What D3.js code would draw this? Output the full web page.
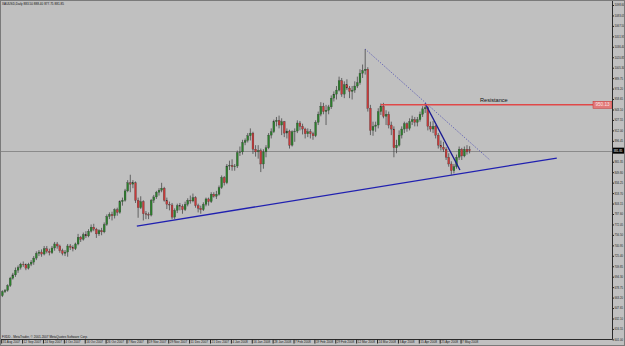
<!DOCTYPE html>
<html><head><meta charset="utf-8">
<script src="https://cdn.jsdelivr.net/npm/d3@7"></script>
<style>html,body{margin:0;padding:0;background:#c0c0c0;}svg{display:block;}</style>
</head><body>
<svg id="chart" width="625" height="346"></svg>
<script>
// ---- data (XAUUSD daily) ----
const dates = [
"2007-08-31",
"2007-09-03","2007-09-04","2007-09-05","2007-09-06","2007-09-07","2007-09-10","2007-09-11","2007-09-12","2007-09-13","2007-09-14",
"2007-09-17","2007-09-18","2007-09-19","2007-09-20","2007-09-21","2007-09-24","2007-09-25","2007-09-26","2007-09-27","2007-09-28",
"2007-10-01","2007-10-02","2007-10-03","2007-10-04","2007-10-05","2007-10-08","2007-10-09","2007-10-10","2007-10-11","2007-10-12",
"2007-10-15","2007-10-16","2007-10-17","2007-10-18","2007-10-19","2007-10-22","2007-10-23","2007-10-24","2007-10-25","2007-10-26",
"2007-10-29","2007-10-30","2007-10-31","2007-11-01","2007-11-02","2007-11-05","2007-11-06","2007-11-07","2007-11-08","2007-11-09",
"2007-11-12","2007-11-13","2007-11-14","2007-11-15","2007-11-16","2007-11-19","2007-11-20","2007-11-21","2007-11-22","2007-11-23",
"2007-11-26","2007-11-27","2007-11-28","2007-11-29","2007-11-30","2007-12-03","2007-12-04","2007-12-05","2007-12-06","2007-12-07",
"2007-12-10","2007-12-11","2007-12-12","2007-12-13","2007-12-14","2007-12-17","2007-12-18","2007-12-19","2007-12-20","2007-12-21",
"2007-12-24","2007-12-26","2007-12-27","2007-12-28","2007-12-31","2008-01-02","2008-01-03","2008-01-04","2008-01-07","2008-01-08",
"2008-01-09","2008-01-10","2008-01-11","2008-01-14","2008-01-15","2008-01-16","2008-01-17","2008-01-18","2008-01-21","2008-01-22",
"2008-01-23","2008-01-24","2008-01-25","2008-01-28","2008-01-29","2008-01-30","2008-01-31","2008-02-01","2008-02-04","2008-02-05",
"2008-02-06","2008-02-07","2008-02-08","2008-02-11","2008-02-12","2008-02-13","2008-02-14","2008-02-15","2008-02-18","2008-02-19",
"2008-02-20","2008-02-21","2008-02-22","2008-02-25","2008-02-26","2008-02-27","2008-02-28","2008-02-29","2008-03-03","2008-03-04",
"2008-03-05","2008-03-06","2008-03-07","2008-03-10","2008-03-11","2008-03-12","2008-03-13","2008-03-14","2008-03-17","2008-03-18",
"2008-03-19","2008-03-20","2008-03-21","2008-03-24","2008-03-25","2008-03-26","2008-03-27","2008-03-28","2008-03-31","2008-04-01",
"2008-04-02","2008-04-03","2008-04-04","2008-04-07","2008-04-08","2008-04-09","2008-04-10","2008-04-11","2008-04-14","2008-04-15",
"2008-04-16","2008-04-17","2008-04-18","2008-04-21","2008-04-22","2008-04-23","2008-04-24","2008-04-25","2008-04-28","2008-04-29",
"2008-04-30","2008-05-01","2008-05-02","2008-05-05","2008-05-06","2008-05-07","2008-05-08","2008-05-09","2008-05-12"
];
const opens = [666,672,674,681,692,697,704,708,713,712,707,713,716,722,729,731,728,736,732,730,737,743,740,733,729,731,740,738,736,743,753,750,757,755,762,768,765,758,763,761,772,784,787,785,794,790,806,808,822,834,832,834,808,797,806,788,787,786,808,813,820,823,826,808,802,801,783,793,800,799,794,802,808,807,812,800,796,794,802,810,806,817,814,817,827,842,834,859,860,858,859,879,880,894,897,904,908,884,880,882,862,880,886,905,910,925,927,920,925,908,911,890,910,911,923,918,914,907,910,907,904,924,936,948,940,942,947,960,966,972,986,966,980,975,970,972,978,983,997,1001,1003,945,912,918,920,940,948,933,936,920,914,886,890,905,914,922,915,925,928,924,928,936,944,946,918,914,918,905,890,887,884,872,862,852,858,872,884,874,884,883.5];
const highs = [674,676,683,694,700,708,711,715,717,714,715,719,725,732,734,735,740,740,736,740,746,746,742,736,734,743,743,741,745,758,755,760,762,765,772,773,767,765,767,775,787,790,791,796,797,808,812,825,838,846,838,836,812,814,808,792,790,810,816,822,826,834,828,812,806,804,796,803,804,802,806,811,815,818,814,803,800,805,812,812,820,820,822,830,845,844,862,867,869,862,882,888,898,900,908,915,910,890,890,885,884,890,908,915,928,932,934,930,926,915,913,912,915,927,926,922,916,915,914,910,927,940,954,953,950,950,964,970,978,992,990,985,988,978,978,985,992,1003,1010,1033,1006,950,925,925,945,952,953,942,940,925,918,898,912,918,925,924,930,934,932,932,940,948,952,948,925,926,920,908,897,895,887,878,866,862,876,888,886,888,890,888.4];
const lows = [664,670,672,679,690,694,700,705,709,704,705,710,712,719,725,724,726,729,726,728,733,736,730,726,725,724,734,732,734,741,746,748,752,753,760,762,752,755,756,759,770,780,778,781,785,788,800,806,820,820,826,804,782,795,778,780,780,784,804,810,815,820,806,795,793,780,780,789,793,788,792,799,803,805,797,790,788,792,799,800,804,812,810,815,825,830,832,853,852,852,856,874,876,890,894,897,877,873,870,850,855,872,884,900,908,918,915,905,902,900,885,888,895,908,912,906,900,902,900,898,902,920,933,936,920,936,944,955,958,970,962,960,972,960,958,968,975,980,990,995,940,905,904,910,915,935,930,920,915,905,872,878,888,900,908,910,912,920,918,918,925,932,938,912,910,908,900,885,882,880,868,858,846,848,855,868,868,872,876,877.75];
const closes = [672,674,681,692,697,704,708,713,712,707,713,716,722,729,731,728,736,732,730,737,743,740,733,729,731,740,738,736,743,753,750,757,755,762,768,765,758,763,761,772,784,787,785,794,790,806,808,822,834,832,834,808,797,806,788,787,786,808,813,820,823,826,808,802,801,783,793,800,799,794,802,808,807,812,800,796,794,802,810,806,817,814,817,827,842,834,859,860,858,859,879,880,894,897,904,908,884,880,882,862,880,886,905,910,925,927,920,925,908,911,890,910,911,923,918,914,907,910,907,904,924,936,948,940,942,947,960,966,972,986,966,980,975,970,972,978,983,997,1001,1003,945,912,918,920,940,948,933,936,920,914,886,890,905,914,922,915,925,928,924,928,936,944,946,918,914,918,905,890,887,884,872,862,852,858,872,884,874,884,880,881.85];

const priceTicks = [1098.60,1083.05,1067.50,1051.95,1036.40,1020.85,1005.30,989.75,974.20,958.65,943.10,927.55,912.00,896.45,880.90,865.35,849.80,834.25,818.70,803.15,787.60,772.05,756.50,740.95,725.40,709.85,694.30,678.75,663.20,647.65,632.10,616.55,601.00];
const dateTickEvery = 8;
const resistanceLevel = 950.13;
const resistanceStartBar = 145;
const supportLine = [[51.5, 769.7],[212.4, 870.9]];
const dottedLine = [[139, 1033],[186.8, 867.9]];
const steepLine = [[162, 952],[175.3, 853.1]];
const symbolTitle = "XAUUSD,Daily";
const copyright = "FXDD - MetaTrader, \u00a9 2001-2007 MetaQuotes Software Corp.";

// ---- layout ----
const W = 625, H = 346;
const axisX = 612.5, axisY = 339.5;
const svg = d3.select("#chart");
const font = "Tahoma, 'Liberation Sans', Arial, sans-serif";

const x = d3.scaleLinear().domain([0, dates.length - 1]).range([2.4, 2.4 + (dates.length - 1) * 2.61]);
const y = d3.scaleLinear().domain([601.0, 1098.6]).range([339.4, 5]);

svg.append("rect").attr("width", W).attr("height", H).attr("fill", "#c0c0c0");

const plot = svg.append("g");
plot.append("defs").append("clipPath").attr("id", "clip")
  .append("rect").attr("x", 0).attr("y", 0).attr("width", axisX).attr("height", axisY);
const clipped = plot.append("g").attr("clip-path", "url(#clip)");

// bid line
const last = closes.length - 1;
clipped.append("line").attr("x1", 0).attr("x2", axisX)
  .attr("y1", Math.round(y(closes[last])) + 0.5).attr("y2", Math.round(y(closes[last])) + 0.5)
  .attr("stroke", "#8a8a8a").attr("stroke-width", 1);

// candles
const bars = d3.range(dates.length);
const cg = clipped.append("g");
cg.selectAll("line.wick").data(bars).join("line").attr("class", "wick")
  .attr("x1", i => x(i)).attr("x2", i => x(i))
  .attr("y1", i => y(highs[i])).attr("y2", i => y(lows[i]))
  .attr("stroke", "#3a3a3a").attr("stroke-width", 0.7);
cg.selectAll("rect.body").data(bars).join("rect").attr("class", "body")
  .attr("x", i => x(i) - 0.95).attr("width", 1.9)
  .attr("y", i => y(Math.max(opens[i], closes[i])))
  .attr("height", i => Math.max(0.7, Math.abs(y(opens[i]) - y(closes[i]))))
  .attr("fill", i => closes[i] >= opens[i] ? "#2b7f2b" : "#c83a3a")
  .attr("stroke", "#333").attr("stroke-width", 0.25);

// trend lines
function tl(pts, color, w, dash) {
  clipped.append("line")
    .attr("x1", x(pts[0][0])).attr("y1", y(pts[0][1]))
    .attr("x2", x(pts[1][0])).attr("y2", y(pts[1][1]))
    .attr("stroke", color).attr("stroke-width", w)
    .attr("stroke-dasharray", dash || null);
}
tl(supportLine, "#2020b0", 1.3);
tl(dottedLine, "#3a3ab0", 0.8, "1,1.5");
tl(steepLine, "#1a1a90", 1.4);

// resistance
const ry = y(resistanceLevel);
clipped.append("line").attr("x1", x(resistanceStartBar)).attr("x2", 593)
  .attr("y1", ry).attr("y2", ry).attr("stroke", "#e04848").attr("stroke-width", 1.6);
clipped.append("text").attr("x", 480).attr("y", ry - 2.5)
  .attr("font-family", font).attr("font-size", 5.6).attr("fill", "#111").text("Resistance");
svg.append("rect").attr("x", 593).attr("y", ry - 3.5).attr("width", 19).attr("height", 7)
  .attr("fill", "#e27a7a").attr("stroke", "#c83030").attr("stroke-width", 0.5);
svg.append("text").attr("x", 602.5).attr("y", ry).attr("text-anchor", "middle")
  .attr("dominant-baseline", "central").attr("font-family", font).attr("font-size", 4.6)
  .attr("fill", "#fbe4e4").text(resistanceLevel.toFixed(2));

// axes lines
svg.append("line").attr("x1", axisX).attr("x2", axisX).attr("y1", 0).attr("y2", axisY).attr("stroke", "#2a2a2a").attr("stroke-width", 1);
svg.append("line").attr("x1", 0).attr("x2", axisX).attr("y1", axisY).attr("y2", axisY).attr("stroke", "#2a2a2a").attr("stroke-width", 1);

// price axis
const yAxis = d3.axisRight(y).tickValues(priceTicks).tickSize(1.5).tickPadding(0.5).tickFormat(d3.format(".2f"));
const ya = svg.append("g").attr("transform", `translate(${axisX},0)`).call(yAxis);
ya.select(".domain").remove();
ya.selectAll("line").attr("stroke", "#222");
ya.selectAll("text").attr("font-family", font).attr("font-size", 2.8).attr("fill", "#222");

// current price box
const cy = y(closes[last]);
svg.append("rect").attr("x", axisX + 0.5).attr("y", cy - 3).attr("width", 11.5).attr("height", 6).attr("fill", "#000");
svg.append("text").attr("x", axisX + 1.2).attr("y", cy).attr("dominant-baseline", "central")
  .attr("font-family", font).attr("font-size", 2.8).attr("fill", "#fff").text(closes[last].toFixed(2));

// date axis
const fmt = d3.timeFormat("%-d %b %Y"), parse = d3.timeParse("%Y-%m-%d");
const dTicks = bars.filter(i => i % dateTickEvery === 0);
const xAxis = d3.axisBottom(x).tickValues(dTicks).tickSize(4).tickFormat(i => fmt(parse(dates[i])));
const xa = svg.append("g").attr("transform", `translate(-1.2,${axisY})`).call(xAxis);
xa.select(".domain").remove();
xa.selectAll("line").attr("stroke", "#222");
xa.selectAll("text").attr("text-anchor", "start").attr("x", 1).attr("y", 1.2).attr("dy", "0.71em")
  .attr("font-family", font).attr("font-size", 3.1).attr("fill", "#222");

// texts
svg.append("text").attr("x", 2).attr("y", 4.5).attr("font-family", font).attr("font-size", 3.1).attr("fill", "#111")
  .text(`${symbolTitle}  ${opens[last].toFixed(2)} ${highs[last].toFixed(2)} ${lows[last].toFixed(2)} ${closes[last].toFixed(2)}`);
svg.append("text").attr("x", 2).attr("y", 337.5).attr("font-family", font).attr("font-size", 3.1).attr("fill", "#111")
  .text(copyright);

// frame
svg.append("rect").attr("x", 0.5).attr("y", 0.5).attr("width", W - 1).attr("height", H - 1)
  .attr("fill", "none").attr("stroke", "#7a7a7a");
</script>
</body></html>
